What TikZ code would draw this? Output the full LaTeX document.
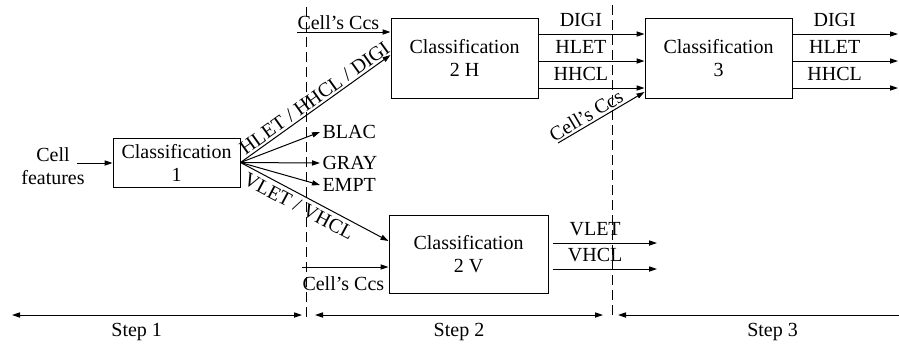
\documentclass[tikz,border=0pt]{standalone}
\usepackage{fontspec}
\setmainfont{Liberation Serif}
\usetikzlibrary{arrows.meta, positioning, calc}

\tikzset{
  classbox/.style={draw, align=center, inner sep=0pt},
  outlbl/.style={above=2pt, inner sep=1.5pt},
  steplbl/.style={below=3pt, inner sep=1pt},
  stepsep/.style={dash pattern=on 5pt off 2.5pt},
}

\begin{document}
\begin{tikzpicture}[x=0.5pt, y=-0.5pt, >={Triangle[length=4pt,width=2.6pt]},
    line width=0.5pt, font=\fontsize{10}{11.5}\selectfont]
  \useasboundingbox (0,0) rectangle (899,345);

  % classifiers
  \node[classbox, minimum width=63.5pt, minimum height=24.5pt] (c1) at (176.5,162.5) {Classification\\1};
  \node[classbox, minimum width=73.5pt, minimum height=40pt] (c2h) at (464.5,58) {Classification\\2 H};
  \node[classbox, minimum width=73.5pt, minimum height=40pt] (c3) at (718.5,58) {Classification\\3};
  \node[classbox, minimum width=79.5pt, minimum height=39pt] (c2v) at (468.5,254) {Classification\\2 V};

  % step 1
  \node[align=center, inner sep=0pt] (feat) at (53,166) {Cell\\features};
  \coordinate (featin) at (77,163);
  \draw[->] (featin) -- (c1.west |- featin);

  \node[anchor=west, inner sep=1pt] (blac) at (320,132) {BLAC};
  \node[anchor=west, inner sep=1pt] (gray) at (320,163) {GRAY};
  \node[anchor=west, inner sep=1pt] (empt) at (320,185) {EMPT};
  \foreach \n in {blac, gray, empt}
    \draw[->] (c1.east) -- (\n.west);

  \draw[->] (c1.east) -- node[pos=0.53, sloped, above, inner sep=1pt] (hlbl) {HLET / HHCL / DIGI} (c2h.west |- 0,55);
  \draw[->] (c1.east) -- node[pos=0.43, sloped, below, inner sep=2pt] (vlbl) {VLET / VHCL} (c2v.west |- 0,241);

  % step 2
  \coordinate (ccsh) at (297,32);
  \draw[->] (ccsh) -- (c2h.west |- ccsh);
  \node[anchor=base west, inner sep=0pt] (ccshlbl) at (297,29) {Cell's Ccs};

  \coordinate (ccsv) at (302,267);
  \draw[->] (ccsv) -- (c2v.west |- ccsv);
  \node[anchor=north west, inner sep=0pt] (ccsvlbl) at (302,276) {Cell's Ccs};

  \foreach \y/\t in {34/DIGI, 61/HLET, 88/HHCL}
    \draw[->] (c2h.east |- 0,\y) -- node[pos=0.4, outlbl] {\t} (c3.west |- 0,\y);

  \foreach \y/\t in {243/VLET, 269/VHCL}
    \draw[->, shorten <=2pt] (c2v.east |- 0,\y) -- node[pos=0.43, outlbl] {\t} (657,\y);

  % step 3
  \coordinate (ccs3) at (558,143);
  \draw[->] (ccs3) -- node[pos=0.38, sloped, above, inner sep=1pt] (ccs3lbl) {Cell's Ccs} (c3.west |- 0,92);

  \foreach \y/\t in {34/DIGI, 61/HLET, 88/HHCL}
    \draw[->] (c3.east |- 0,\y) -- node[pos=0.4, outlbl] {\t} (898,\y);

  % separators and steps
  \draw[stepsep] (306,7) -- (306,317);
  \draw[stepsep] (612,5) -- (612,317);

  \coordinate (s1a) at (12,315);  \coordinate (s1b) at (302,315);
  \coordinate (s2a) at (315,315); \coordinate (s2b) at (603,315);
  \coordinate (s3a) at (618,315); \coordinate (s3b) at (899,315);
  \draw[<->] (s1a) -- node[pos=0.43, steplbl] {Step 1} (s1b);
  \draw[<->] (s2a) -- node[pos=0.5, steplbl] {Step 2} (s2b);
  \draw[<-] (s3a) -- node[pos=0.55, steplbl] {Step 3} (s3b);
\end{tikzpicture}
\end{document}
